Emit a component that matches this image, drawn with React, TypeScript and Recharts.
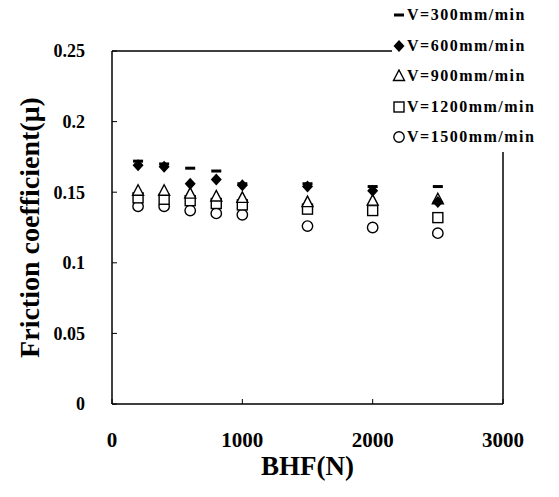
import React from "react";
import { ScatterChart, Scatter, XAxis, YAxis, ReferenceLine, Label } from "recharts";

const bhf = [200, 400, 600, 800, 1000, 1500, 2000, 2500];
const v300 = [0.172, 0.170, 0.167, 0.165, 0.156, 0.156, 0.154, 0.154];
const v600 = [0.169, 0.168, 0.156, 0.159, 0.155, 0.154, 0.151, 0.143];
const v900 = [0.151, 0.151, 0.149, 0.147, 0.146, 0.143, 0.144, 0.145];
const v1200 = [0.146, 0.145, 0.144, 0.142, 0.141, 0.138, 0.137, 0.132];
const v1500 = [0.140, 0.140, 0.137, 0.135, 0.134, 0.126, 0.125, 0.121];

const xTicks = [0, 1000, 2000, 3000];
const yTicks = [0, 0.05, 0.1, 0.15, 0.2, 0.25];

const series = [
  { name: "V=300mm/min", values: v300, kind: "dash" },
  { name: "V=600mm/min", values: v600, kind: "diamond" },
  { name: "V=900mm/min", values: v900, kind: "triangle" },
  { name: "V=1200mm/min", values: v1200, kind: "square" },
  { name: "V=1500mm/min", values: v1500, kind: "circle" },
];

const FONT = "'Times New Roman', 'Liberation Serif', serif";

function Mark({ kind, cx, cy }: any) {
  if (cx == null || cy == null) return null;
  switch (kind) {
    case "dash":
      return <rect x={cx - 5} y={cy - 1.5} width={10} height={3} fill="#000" />;
    case "diamond":
      return (
        <polygon
          points={`${cx},${cy - 6} ${cx + 5.5},${cy} ${cx},${cy + 6} ${cx - 5.5},${cy}`}
          fill="#000"
        />
      );
    case "triangle":
      return (
        <polygon
          points={`${cx},${cy - 6} ${cx + 5.5},${cy + 4.5} ${cx - 5.5},${cy + 4.5}`}
          fill="#fff" stroke="#000" strokeWidth={1.4}
        />
      );
    case "square":
      return <rect x={cx - 5} y={cy - 5} width={10} height={10} fill="#fff" stroke="#000" strokeWidth={1.4} />;
    default:
      return <circle cx={cx} cy={cy} r={5.2} fill="#fff" stroke="#000" strokeWidth={1.4} />;
  }
}

// legend sits on top of the plot's upper-right corner, like the scan
function LegendBox() {
  return (
    <div
      style={{
        position: "absolute", top: 0, left: 392, width: 167, height: 152,
        background: "#fff", boxSizing: "border-box",
        fontFamily: FONT, fontWeight: "bold", fontSize: 16, letterSpacing: 1.5,
      }}
    >
      {series.map((s) => (
        <div key={s.name} style={{ height: 30.5, display: "flex", alignItems: "center", whiteSpace: "nowrap" }}>
          <svg width={14} height={14} style={{ marginRight: 1, flex: "none" }}>
            <Mark kind={s.kind} cx={7} cy={7} />
          </svg>
          <span>{s.name}</span>
        </div>
      ))}
    </div>
  );
}

export default function App() {
  return (
    <div style={{ position: "relative", width: 559, height: 497, background: "#fff" }}>
      <style>{`body{margin:0}`}</style>
      <ScatterChart width={559} height={497} margin={{ top: 51, right: 56, bottom: 33, left: 52 }}>
        <XAxis
          type="number" dataKey="x" domain={[0, 3000]} ticks={xTicks} height={60}
          tickSize={-5} tickMargin={33} stroke="#000" axisLine={{ strokeWidth: 1.5 }}
          tick={{ fill: "#000", fontFamily: FONT, fontWeight: "bold", fontSize: 21 }}
        >
          <Label value="BHF(N)" position="insideBottom" offset={-11}
            style={{ fill: "#000", fontFamily: FONT, fontWeight: "bold", fontSize: 27 }} />
        </XAxis>
        <YAxis
          type="number" dataKey="y" domain={[0, 0.25]} ticks={yTicks} width={60}
          tickSize={-5} tickMargin={32} stroke="#000" axisLine={{ strokeWidth: 1.5 }}
          tick={{ fill: "#000", fontFamily: FONT, fontWeight: "bold", fontSize: 18 }}
        >
          <Label value="Friction coefficient(μ)" angle={-90} position="center" dx={-53}
            style={{ fill: "#000", fontFamily: FONT, fontWeight: "bold", fontSize: 28, textAnchor: "middle" }} />
        </YAxis>
        <ReferenceLine y={0.25} stroke="#000" strokeWidth={1.5} />
        <ReferenceLine x={3000} stroke="#000" strokeWidth={1.5} />
        {[...series].reverse().map((s) => (
          <Scatter
            key={s.name}
            name={s.name}
            data={bhf.map((x, i) => ({ x, y: s.values[i] }))}
            isAnimationActive={false}
            shape={(p: any) => <Mark kind={s.kind} cx={p.cx} cy={p.cy} />}
          />
        ))}
      </ScatterChart>
      <LegendBox />
    </div>
  );
}
